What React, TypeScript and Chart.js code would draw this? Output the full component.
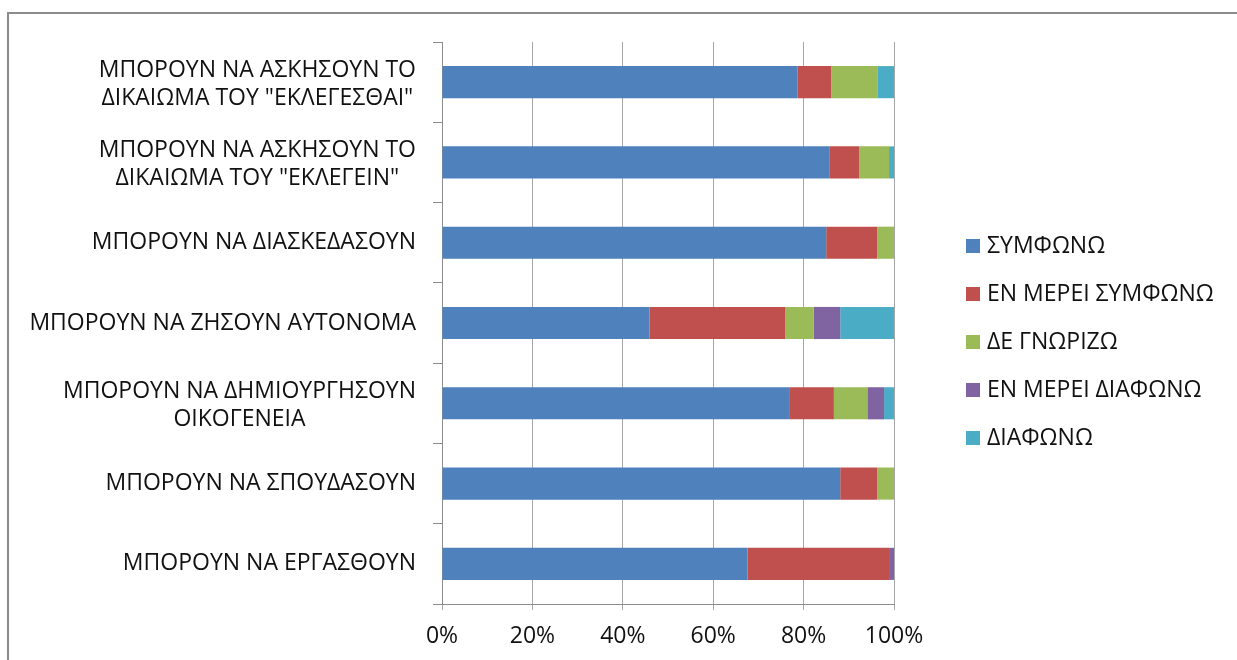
import React, { useEffect, useRef } from "react";
import { Chart, registerables } from "chart.js";

Chart.register(...registerables);

const categories: (string | string[])[] = [
  ["ΜΠΟΡΟΥΝ ΝΑ ΑΣΚΗΣΟΥΝ ΤΟ", "ΔΙΚΑΙΩΜΑ ΤΟΥ \"ΕΚΛΕΓΕΣΘΑΙ\""],
  ["ΜΠΟΡΟΥΝ ΝΑ ΑΣΚΗΣΟΥΝ ΤΟ", "ΔΙΚΑΙΩΜΑ ΤΟΥ \"ΕΚΛΕΓΕΙΝ\""],
  "ΜΠΟΡΟΥΝ ΝΑ ΔΙΑΣΚΕΔΑΣΟΥΝ",
  "ΜΠΟΡΟΥΝ ΝΑ ΖΗΣΟΥΝ ΑΥΤΟΝΟΜΑ",
  ["ΜΠΟΡΟΥΝ ΝΑ ΔΗΜΙΟΥΡΓΗΣΟΥΝ", "ΟΙΚΟΓΕΝΕΙΑ"],
  "ΜΠΟΡΟΥΝ ΝΑ ΣΠΟΥΔΑΣΟΥΝ",
  "ΜΠΟΡΟΥΝ ΝΑ ΕΡΓΑΣΘΟΥΝ",
];

const seriesNames = [
  "ΣΥΜΦΩΝΩ",
  "ΕΝ ΜΕΡΕΙ ΣΥΜΦΩΝΩ",
  "ΔΕ ΓΝΩΡΙΖΩ",
  "ΕΝ ΜΕΡΕΙ ΔΙΑΦΩΝΩ",
  "ΔΙΑΦΩΝΩ",
];

const seriesColors = ["#4F81BD", "#C0504D", "#9BBB59", "#8064A2", "#4BACC6"];

const agree = [78.7, 85.8, 85.0, 45.9, 76.8, 88.1, 67.6];
const partlyAgree = [7.4, 6.5, 11.3, 30.0, 9.9, 8.2, 31.3];
const dontKnow = [10.2, 6.6, 3.7, 6.3, 7.4, 3.7, 0];
const partlyDisagree = [0, 0, 0, 5.9, 3.7, 0, 1.1];
const disagree = [3.7, 1.1, 0, 11.9, 2.2, 0, 0];

const xTickValues = [0, 20, 40, 60, 80, 100];
const xTickLabels = ["0%", "20%", "40%", "60%", "80%", "100%"];

const FONT_FAMILY = "'Open Sans', 'Noto Sans', sans-serif";
const FONT_SIZE = 23;

const labelsAndLegendPlugin = {
  id: "labelsAndLegend",
  afterDraw(chart: any) {
    const ctx = chart.ctx as CanvasRenderingContext2D;
    const yScale = chart.scales.y;
    ctx.save();
    ctx.font = `${FONT_SIZE}px ${FONT_FAMILY}`;
    ctx.fillStyle = "#111111";
    ctx.textBaseline = "middle";
    ctx.textAlign = "center";
    const rightEdge = chart.chartArea.left - 26;
    const lineHeight = 28;
    (chart.data.labels as (string | string[])[]).forEach((lab, i) => {
      const lines = Array.isArray(lab) ? lab : [lab];
      const cy = yScale.getPixelForValue(i);
      const maxW = Math.max(...lines.map((l) => ctx.measureText(l).width));
      const cx = rightEdge - maxW / 2;
      const startY = cy - ((lines.length - 1) * lineHeight) / 2 + (lines.length > 1 ? 2 : 0);
      lines.forEach((l, k) => ctx.fillText(l, cx, startY + k * lineHeight));
    });

    // legend
    const legendX = 966;
    const legendY0 = 246;
    const legendStep = 48;
    const box = 14;
    ctx.textAlign = "left";
    chart.data.datasets.forEach((ds: any, i: number) => {
      const cy = legendY0 + i * legendStep;
      ctx.fillStyle = ds.backgroundColor;
      ctx.fillRect(legendX, cy - box / 2, box, box);
      ctx.fillStyle = "#111111";
      ctx.fillText(ds.label, legendX + box + 7, cy);
    });
    ctx.restore();
  },
};

export default function App() {
  const canvasRef = useRef<HTMLCanvasElement | null>(null);

  useEffect(() => {
    if (!canvasRef.current) return;
    const seriesData = [agree, partlyAgree, dontKnow, partlyDisagree, disagree];
    const chart = new Chart(canvasRef.current, {
      type: "bar",
      data: {
        labels: categories as any,
        datasets: seriesNames.map((name, i) => ({
          label: name,
          data: seriesData[i],
          backgroundColor: seriesColors[i],
          borderWidth: 0,
          barPercentage: 0.4,
          categoryPercentage: 1,
        })),
      },
      options: {
        indexAxis: "y",
        animation: false,
        responsive: false,
        maintainAspectRatio: false,
        devicePixelRatio: 1,
        layout: { padding: { top: 42, right: 343, bottom: 0, left: 0 } },
        plugins: {
          legend: { display: false },
          tooltip: { enabled: false },
        },
        scales: {
          x: {
            stacked: true,
            min: 0,
            max: 100,
            afterFit: (s: any) => {
              s.height = 56;
            },
            afterBuildTicks: (s: any) => {
              s.ticks = xTickValues.map((v) => ({ value: v }));
            },
            grid: {
              color: "#a6a6a6",
              lineWidth: 1,
              drawTicks: true,
              tickLength: 6,
            },
            border: { color: "#8c8c8c", width: 1 },
            ticks: {
              padding: 13,
              color: "#111111",
              font: { family: FONT_FAMILY, size: FONT_SIZE },
              callback: (_v: any, idx: number) => xTickLabels[idx],
            },
          },
          y: {
            stacked: true,
            afterFit: (s: any) => {
              s.width = 442;
            },
            grid: {
              offset: true,
              drawOnChartArea: false,
              drawTicks: true,
              tickLength: 9,
              color: "#8c8c8c",
            },
            border: { color: "#8c8c8c", width: 1 },
            ticks: { display: false },
          },
        },
      },
      plugins: [labelsAndLegendPlugin],
    } as any);
    return () => chart.destroy();
  }, []);

  return (
    <div
      style={{
        position: "fixed",
        left: 0,
        top: 0,
        width: 1237,
        height: 660,
        overflow: "hidden",
        background: "#ffffff",
      }}
    >
      <div
        style={{
          position: "absolute",
          left: 7,
          top: 12,
          width: 1300,
          height: 800,
          border: "2px solid #8c8c8c",
          boxSizing: "border-box",
        }}
      />
      <canvas
        ref={canvasRef}
        width={1237}
        height={660}
        style={{ position: "absolute", left: 0, top: 0, width: 1237, height: 660 }}
      />
    </div>
  );
}
